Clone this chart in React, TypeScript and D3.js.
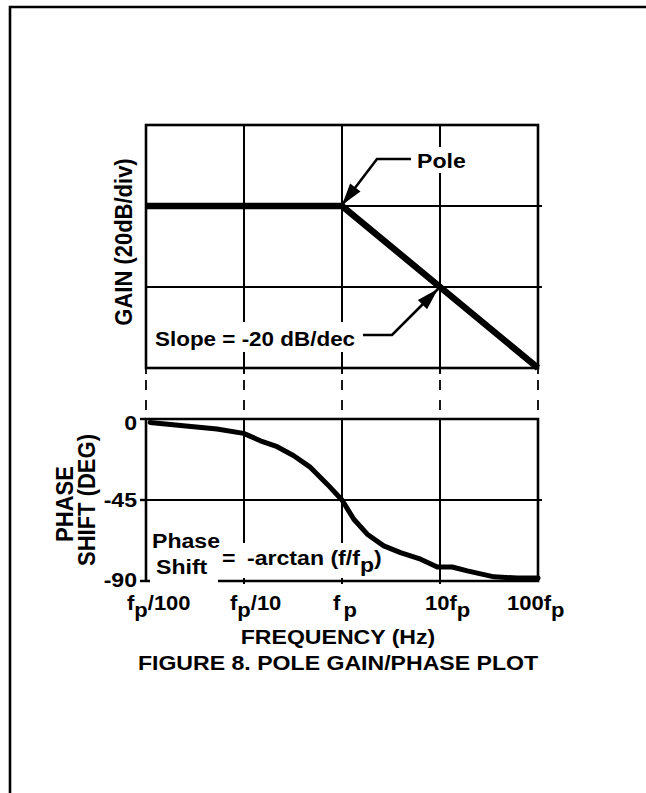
import React from "react";
import * as d3 from "d3";

// ---------- data ----------
const FREQ_TICKS = [0.01, 0.1, 1, 10, 100];
const FREQ_LABELS = [
  { main: "f", sub: "p", tail: "/100" },
  { main: "f", sub: "p", tail: "/10" },
  { main: "f", sub: "p", tail: "" },
  { main: "10f", sub: "p", tail: "" },
  { main: "100f", sub: "p", tail: "" },
];
const GAIN_FREQ = [0.01, 1, 100];
const GAIN_DB = [0, 0, -40];
const GAIN_GRID = [0, -20];
const PHASE_FREQ = [0.011, 0.024, 0.053, 0.099, 0.147, 0.218, 0.322, 0.477, 0.706, 1.0, 1.32, 1.81, 2.67, 3.95, 6.34, 9.38, 13.3, 19.0, 35.6, 61.5, 100];
const PHASE_DEG = [-1.9, -3.7, -5.6, -8, -12.1, -15.4, -20.4, -26.9, -36.2, -45, -55.7, -64, -70.5, -74.2, -77.9, -82.2, -82.2, -84.4, -87.7, -88.4, -88.4];
const PHASE_TICKS = [0, -45, -90];

// ---------- layout ----------
const W = 646;
const H = 793;
const FONT = "'Liberation Sans', Arial, Helvetica, sans-serif";
const HS = 1.1;
const FS = 21;
const LABEL_DX = [-19, -14, -9, -15, -31];

const x = d3.scaleLog().domain([0.01, 100]).range([146, 538]);
const yG = d3.scaleLinear().domain([-40, 20]).range([368, 125]);
const yP = d3.scaleLinear().domain([-90, 0]).range([581, 419]);

function HText({ x, y, anchor = "start", size = FS, children }: any) {
  return (
    <text
      transform={`translate(${x},${y}) scale(${HS},1)`}
      textAnchor={anchor}
      fontSize={size}
      fontWeight="bold"
      fontFamily={FONT}
      fill="#000"
    >
      {children}
    </text>
  );
}

function VText({ x, y, size = 22, children }: any) {
  return (
    <text
      transform={`translate(${x},${y}) scale(1.12,1) rotate(-90)`}
      textAnchor="middle"
      fontSize={size}
      fontWeight="bold"
      fontFamily={FONT}
      fill="#000"
    >
      {children}
    </text>
  );
}

function arrowHead(tip: [number, number], from: [number, number], L = 22, w = 6.5) {
  const dx = tip[0] - from[0];
  const dy = tip[1] - from[1];
  const d = Math.hypot(dx, dy);
  const ux = dx / d, uy = dy / d;
  const bx = tip[0] - ux * L, by = tip[1] - uy * L;
  const nx = -uy, ny = ux;
  return `M${tip[0]},${tip[1]}L${bx + nx * w},${by + ny * w}L${bx - nx * w},${by - ny * w}Z`;
}

export default function App() {
  const gainData = GAIN_FREQ.map((f, i) => [f, GAIN_DB[i]] as [number, number]);
  const phaseData = PHASE_FREQ.map((f, i) => [f, PHASE_DEG[i]] as [number, number]);
  const gainLine = d3.line<[number, number]>().x((d) => x(d[0])).y((d) => yG(d[1]))(gainData) || "";
  const phaseLine = d3.line<[number, number]>().x((d) => x(d[0])).y((d) => yP(d[1]))(phaseData) || "";

  const gx0 = x(0.01), gx1 = x(100);
  const gTop = yG(20), gBot = yG(-40);
  const pTop = yP(0), pBot = yP(-90);

  const poleTip: [number, number] = [x(1), yG(0) - 1];
  const poleKnee: [number, number] = [377, 159];
  const slopeTip: [number, number] = [x(10) - 2, yG(-20) + 2];
  const slopeKnee: [number, number] = [392, 335];

  return (
    <svg
      width={W}
      height={H}
      viewBox={`0 0 ${W} ${H}`}
      style={{ position: "absolute", left: 0, top: 0, background: "#fff" }}
    >
      <rect x={0} y={0} width={W} height={H} fill="#fff" />
      <path d={`M10,${H}V7H${W}`} fill="none" stroke="#000" strokeWidth={2.6} />

      {/* ---------- GAIN PLOT ---------- */}
      {FREQ_TICKS.slice(1, 4).map((f) => (
        <line key={"gv" + f} x1={x(f)} x2={x(f)} y1={gTop} y2={gBot + 5} stroke="#000" strokeWidth={2} />
      ))}
      {GAIN_GRID.map((g) => (
        <line key={"gh" + g} x1={gx0} x2={gx1 + 4} y1={yG(g)} y2={yG(g)} stroke="#000" strokeWidth={2} />
      ))}
      <rect x={150} y={322} width={210} height={30} fill="#fff" />
      <rect x={413} y={147} width={58} height={26} fill="#fff" />
      <rect x={gx0} y={gTop} width={gx1 - gx0} height={gBot - gTop} fill="none" stroke="#000" strokeWidth={2.6} />
      <path d={gainLine} fill="none" stroke="#000" strokeWidth={6.5} strokeLinejoin="miter" />

      <path d={`M363,${slopeKnee[1]}H${slopeKnee[0]}L${slopeTip[0]},${slopeTip[1]}`} fill="none" stroke="#000" strokeWidth={2.6} />
      <path d={arrowHead(slopeTip, slopeKnee)} fill="#000" />
      <HText x={155} y={346} size={20.4}>Slope = -20 dB/dec</HText>

      <path d={`M411,${poleKnee[1]}H${poleKnee[0]}L${poleTip[0]},${poleTip[1]}`} fill="none" stroke="#000" strokeWidth={2.6} />
      <path d={arrowHead(poleTip, poleKnee)} fill="#000" />
      <HText x={417} y={168}>Pole</HText>

      <VText x={132} y={242}>GAIN (20dB/div)</VText>

      {FREQ_TICKS.map((f) => (
        <line
          key={"dc" + f}
          x1={x(f)}
          x2={x(f)}
          y1={gBot}
          y2={pTop}
          stroke="#000"
          strokeWidth={1.8}
          strokeDasharray="6 6 10 10 10 10"
        />
      ))}

      {/* ---------- PHASE PLOT ---------- */}
      {FREQ_TICKS.slice(1, 4).map((f) => (
        <line key={"pv" + f} x1={x(f)} x2={x(f)} y1={pTop} y2={pBot + 3} stroke="#000" strokeWidth={2} />
      ))}
      <line x1={gx0} x2={gx1 + 4} y1={yP(-45)} y2={yP(-45)} stroke="#000" strokeWidth={2} />
      {PHASE_TICKS.map((p) => (
        <line key={"pt" + p} x1={gx0 - 6} x2={gx0} y1={yP(p)} y2={yP(p)} stroke="#000" strokeWidth={2.4} />
      ))}
      <rect x={150} y={525} width={68} height={60} fill="#fff" />
      <rect x={219} y={543} width={165} height={35} fill="#fff" />
      <path d={`M${gx0},${pBot}V${pTop}H${gx1}V${pBot}H218M150,${pBot}H${gx0}`} fill="none" stroke="#000" strokeWidth={2.6} />
      <path d={phaseLine} fill="none" stroke="#000" strokeWidth={5} strokeLinejoin="round" strokeLinecap="round" />

      {PHASE_TICKS.map((p, i) => (
        <HText key={"pl" + p} x={137} y={yP(p) + [11, 7, 6][i]} anchor="end">
          {String(p)}
        </HText>
      ))}

      <VText x={73} y={504}>PHASE</VText>
      <VText x={95} y={500}>SHIFT (DEG)</VText>

      <HText x={152} y={548}>Phase</HText>
      <HText x={156} y={574}>Shift</HText>
      <HText x={222} y={565}>=</HText>
      <HText x={247} y={565}>
        -arctan (f/f<tspan dy={7}>p</tspan>
        <tspan dy={-7}>)</tspan>
      </HText>

      {FREQ_TICKS.map((f, i) => {
        const lab = FREQ_LABELS[i];
        return (
          <HText key={"fl" + f} x={x(f) + LABEL_DX[i]} y={610} size={20}>
            {lab.main}
            <tspan dy={7} dx={i === 2 ? 3 : 0}>{lab.sub}</tspan>
            {lab.tail ? <tspan dy={-7}>{lab.tail}</tspan> : null}
          </HText>
        );
      })}

      <HText x={338} y={644} anchor="middle">FREQUENCY (Hz)</HText>
      <HText x={338} y={670} anchor="middle">FIGURE 8. POLE GAIN/PHASE PLOT</HText>
    </svg>
  );
}
